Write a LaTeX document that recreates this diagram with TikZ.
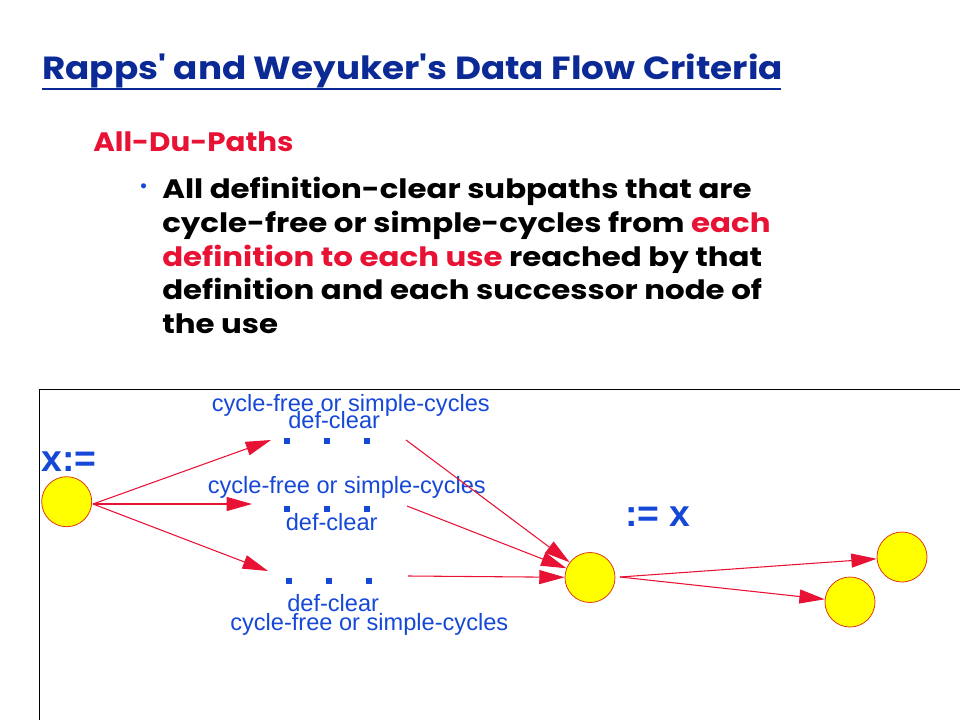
\documentclass[tikz,border=0pt]{standalone}
\usepackage{fontspec}
\setmainfont{Liberation Sans}
\newfontfamily\comicT[FakeStretch=1.117]{Poppins}
\newfontfamily\comicS[FakeStretch=1.10]{Poppins}
\newfontfamily\comicB[FakeStretch=1.157]{Poppins}
\usetikzlibrary{arrows.meta}
\definecolor{titleblue}{RGB}{12,42,150}
\definecolor{lblue}{RGB}{22,72,215}
\definecolor{ared}{RGB}{232,18,52}
\definecolor{yel}{RGB}{255,255,0}
\definecolor{cedge}{RGB}{220,60,20}
\begin{document}
\begin{tikzpicture}[x=0.75pt,y=-0.75pt,
  txt/.style={inner sep=0pt,anchor=base west},
  ttl/.style={txt,font=\comicT\bfseries\fontsize{24pt}{28pt}\selectfont,text=titleblue},
  sbt/.style={txt,font=\comicS\bfseries\fontsize{20pt}{24pt}\selectfont,text=ared},
  body/.style={txt,font=\comicB\bfseries\fontsize{20pt}{24pt}\selectfont},
  lbl/.style={txt,font=\fontsize{17.7pt}{20pt}\selectfont,text=lblue},
  big/.style={txt,font=\bfseries\fontsize{28pt}{32pt}\selectfont,text=lblue},
  vnode/.style={circle,draw=cedge,line width=0.6pt,fill=yel,minimum size=37.5pt,inner sep=0pt},
  dotsq/.style={fill=lblue,minimum size=5pt,inner sep=0pt},
  arr/.style={draw=ared,line width=0.8pt,-{Triangle[length=19pt,width=10.5pt]}}]
\useasboundingbox (0,0) rectangle (960,720);
% title
\node[ttl] (title) at (42,80) {Rapps' and Weyuker's Data Flow Criteria};
\draw[titleblue,line width=2.2pt] (title.base west)++(0,9) -- ++(739,0);
\node[sbt] (sub) at (93,152) {All-Du-Paths};
\node[txt,font=\fontsize{14pt}{16pt}\selectfont,text=lblue] (bul) at (140,193) {•};
\node[body] (l1) at (162,199) {All definition-clear subpaths that are};
\node[body] (l2) at (162,233) {cycle-free or simple-cycles from \textcolor{ared}{each}};
\node[body] (l3) at (162,266.5) {\textcolor{ared}{definition to each use} reached by that};
\node[body] (l4) at (162,300) {definition and each successor node of};
\node[body] (l5) at (162,333.5) {the use};
% frame
\draw[black,line width=0.9pt] (39.5,720) -- (39.5,389.5) -- (960,389.5);
% nodes
\node[vnode] (c1) at (66.7,501.7) {};
\node[vnode] (c2) at (590,577.5) {};
\node[vnode] (c3) at (902,557) {};
\node[vnode] (c4) at (850,602) {};
\node[big] (xdef) at (41,471.7) {x:=};
\node[big] (xuse) at (625,526.7) {:= x};
% dots
\foreach \r/\y in {a/441,b/509}{
  \node[dotsq] (\r1) at (287,\y) {};
  \node[dotsq] (\r2) at (327,\y) {};
  \node[dotsq] (\r3) at (367,\y) {};
}
\node[dotsq] (cc1) at (289,581) {};
\node[dotsq] (cc2) at (329,581) {};
\node[dotsq] (cc3) at (369,581) {};
% labels
\node[lbl] (la1) at (211.5,411.5) {cycle-free or simple-cycles};
\node[lbl] (la2) at (288,428) {def-clear};
\node[lbl] (lb1) at (207.5,493) {cycle-free or simple-cycles};
\node[lbl] (lb2) at (285.5,530) {def-clear};
\node[lbl] (lc2) at (287,611.5) {def-clear};
\node[lbl] (lc1) at (230,630) {cycle-free or simple-cycles};
% connector endpoints
\coordinate (s) at (93,504);
\coordinate (t1) at (271,440);
\coordinate (t2) at (252,504);
\coordinate (t3) at (268,571);
\coordinate (u1) at (406,440);
\coordinate (u2) at (407,506);
\coordinate (u3) at (408,576);
\coordinate (v) at (620,577);
\draw[arr] (s) -- (t1);
\draw[arr] (s) -- (t2);
\draw[arr] (s) -- (t3);
\draw[arr] (u1) -- (c2);
\draw[arr] (u2) -- (c2);
\draw[arr] (u3) -- (c2);
\draw[arr] (v) -- (c3);
\draw[arr] (v) -- (c4);
\end{tikzpicture}
\end{document}
